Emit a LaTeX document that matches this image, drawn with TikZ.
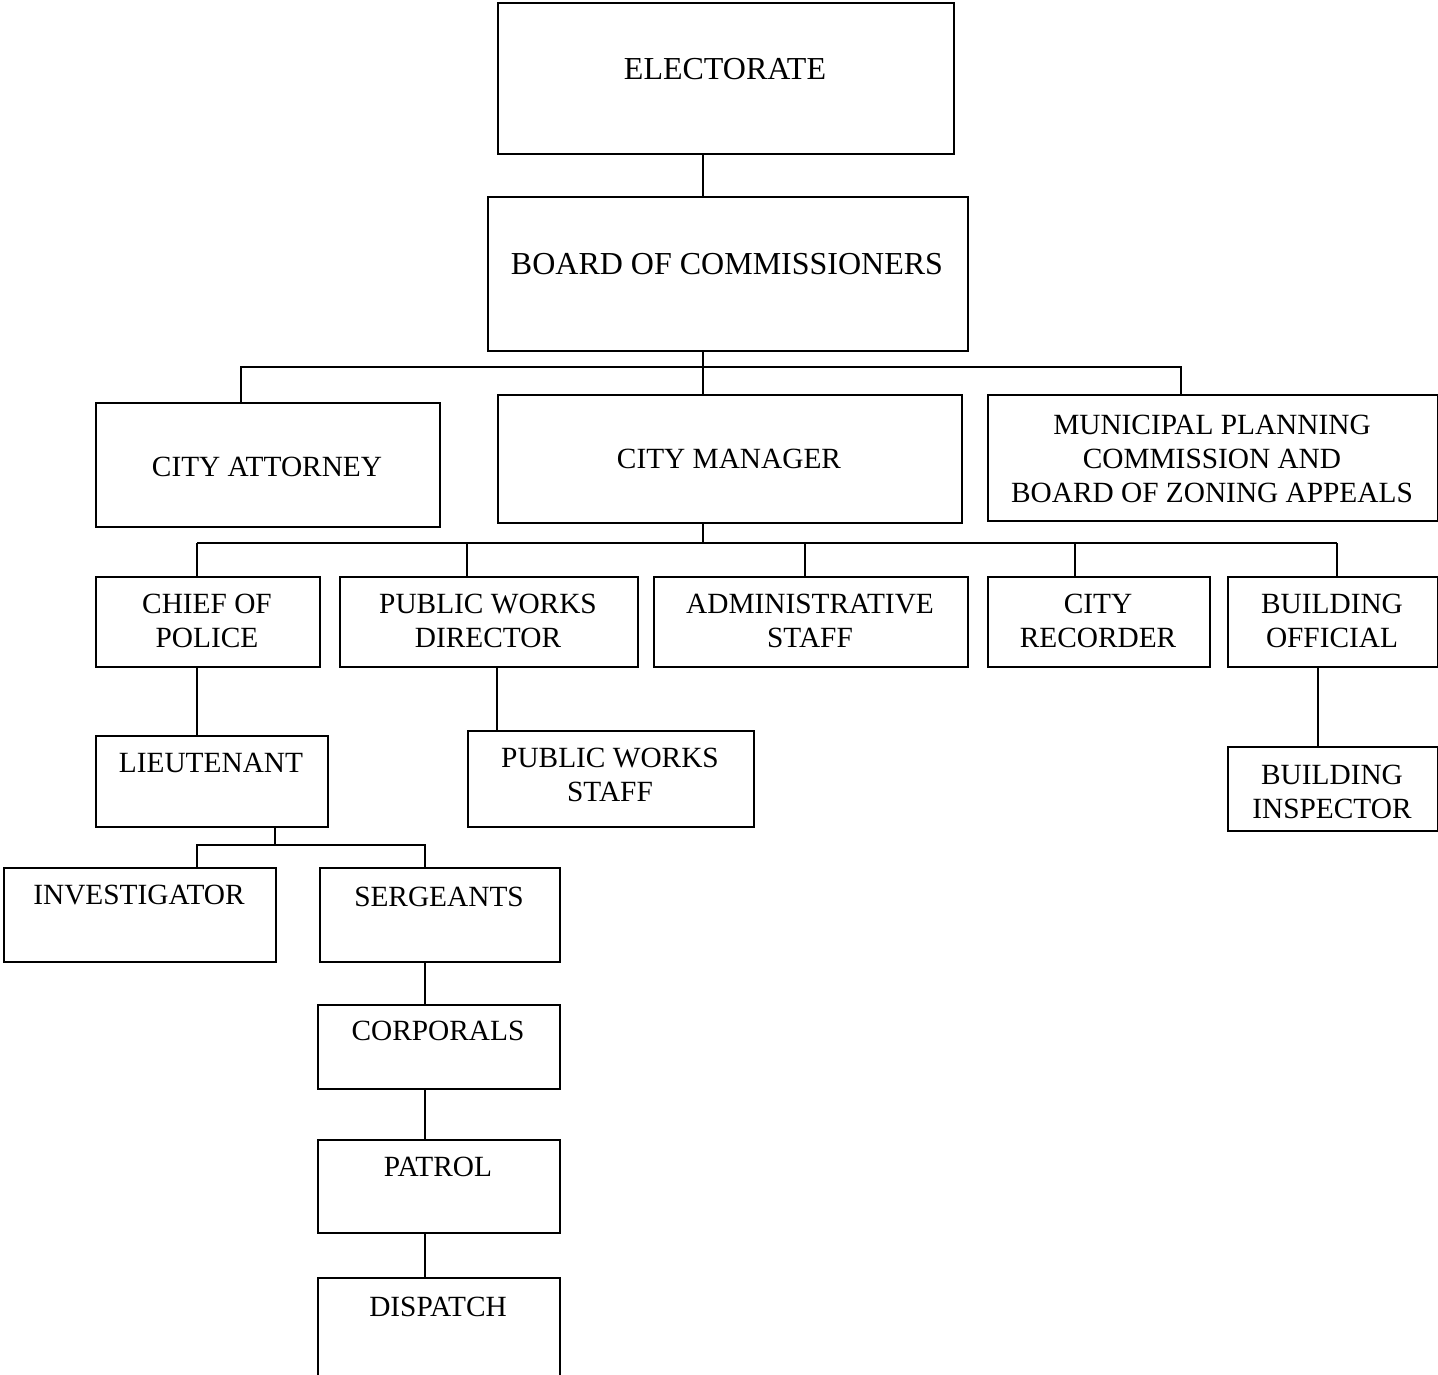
\documentclass[tikz,border=0pt]{standalone}
\usepackage{fontspec}
\setmainfont{Liberation Serif}
\begin{document}
\begin{tikzpicture}[x=0.75pt,y=-0.75pt,
  box/.style={draw=black,line width=1.5pt,rectangle,inner sep=0pt,fill=none},
  txt/.style={inner sep=0pt,align=center,font=\fontsize{22pt}{25.5pt}\selectfont},
  bigtxt/.style={font=\fontsize{24pt}{27pt}\selectfont},
  conn/.style={draw=black,line width=1.5pt}]
\clip (0,0) rectangle (1438,1374);
\newcommand{\orgbox}[8][]{%
  \node[box,minimum width={(#5-#3)*0.75pt},minimum height={(#6-#4)*0.75pt},anchor=north west] (#2) at (#3,#4) {};
  \node[txt,anchor=north,#1] (#2-t) at ({(#3+#5)/2},#7) {#8};}
\orgbox[bigtxt]{elec}{497}{2}{953}{153}{58}{ELECTORATE}
\orgbox[bigtxt]{board}{487}{196}{967}{350}{253}{BOARD OF COMMISSIONERS}
\orgbox{att}{95}{402}{439}{526}{457}{CITY ATTORNEY}
\orgbox{cm}{497}{394}{961}{522}{449}{CITY MANAGER}
\orgbox{mun}{987}{394}{1437}{520}{415}{MUNICIPAL PLANNING\\COMMISSION AND\\BOARD OF ZONING APPEALS}
\orgbox{chief}{95}{576}{319}{666}{594}{CHIEF OF\\POLICE}
\orgbox{pwd}{339}{576}{637}{666}{594}{PUBLIC WORKS\\DIRECTOR}
\orgbox{adm}{653}{576}{967}{666}{594}{ADMINISTRATIVE\\STAFF}
\orgbox{rec}{987}{576}{1209}{666}{594}{CITY\\RECORDER}
\orgbox{bo}{1227}{576}{1437}{666}{594}{BUILDING\\OFFICIAL}
\orgbox{lt}{95}{735}{327}{826}{753}{LIEUTENANT}
\orgbox{pws}{467}{730}{753}{826}{748}{PUBLIC WORKS\\STAFF}
\orgbox{bi}{1227}{746}{1437}{830}{765}{BUILDING\\INSPECTOR}
\orgbox{inv}{3}{867}{275}{961}{885}{INVESTIGATOR}
\orgbox{serg}{319}{867}{559}{961}{887}{SERGEANTS}
\orgbox{corp}{317}{1004}{559}{1088}{1021}{CORPORALS}
\orgbox{pat}{317}{1139}{559}{1232}{1157}{PATROL}
\orgbox{disp}{317}{1277}{559}{1420}{1297}{DISPATCH}
% bus coordinates
\coordinate (b1) at (703,367);
\coordinate (a1) at (241,367);
\coordinate (m1) at (1181,367);
\coordinate (b2) at (703,543);
\coordinate (k1) at (197,543);
\coordinate (k2) at (467,543);
\coordinate (k3) at (805,543);
\coordinate (k4) at (1075,543);
\coordinate (k5) at (1337,543);
\coordinate (l0) at (275,845);
\coordinate (l1) at (197,845);
\coordinate (l2) at (425,845);
\coordinate (p1) at (497,0);
\coordinate (q1) at (1318,0);
% connectors
\draw[conn] (elec.south -| b1) -- (board.north -| b1);
\draw[conn] (board.south -| b1) -- (b1);
\draw[conn] (att.north -| a1) -- (a1) -- (m1) -- (mun.north -| m1);
\draw[conn] (b1) -- (cm.north -| b1);
\draw[conn] (cm.south -| b2) -- (b2);
\draw[conn] (k1) -- (k5);
\draw[conn] (k1) -- (chief.north -| k1);
\draw[conn] (k2) -- (pwd.north -| k2);
\draw[conn] (k3) -- (adm.north -| k3);
\draw[conn] (k4) -- (rec.north -| k4);
\draw[conn] (k5) -- (bo.north -| k5);
\draw[conn] (chief.south -| k1) -- (lt.north -| k1);
\draw[conn] (pwd.south -| p1) -- (pws.north -| p1);
\draw[conn] (bo.south -| q1) -- (bi.north -| q1);
\draw[conn] (lt.south -| l0) -- (l0);
\draw[conn] (inv.north -| l1) -- (l1) -- (l2) -- (serg.north -| l2);
\draw[conn] (serg.south -| l2) -- (corp.north -| l2);
\draw[conn] (corp.south -| l2) -- (pat.north -| l2);
\draw[conn] (pat.south -| l2) -- (disp.north -| l2);
\end{tikzpicture}
\end{document}
